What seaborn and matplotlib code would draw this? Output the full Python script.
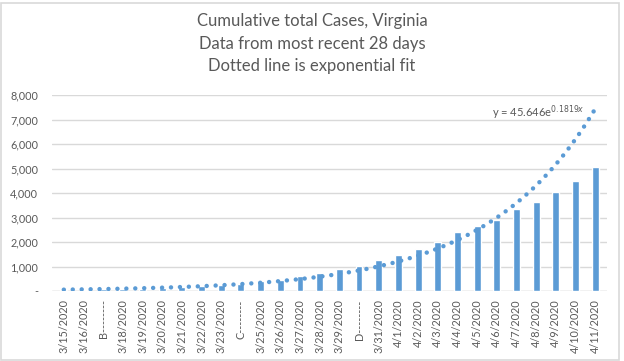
import matplotlib
matplotlib.use("Agg")
import matplotlib.pyplot as plt
import seaborn as sns
import numpy as np
import pandas as pd
from matplotlib.patches import Rectangle
from matplotlib.ticker import FuncFormatter

# ---- data ----
dates = ["3/15/2020", "3/16/2020", "B--------", "3/18/2020", "3/19/2020", "3/20/2020",
         "3/21/2020", "3/22/2020", "3/23/2020", "C--------", "3/25/2020", "3/26/2020",
         "3/27/2020", "3/28/2020", "3/29/2020", "D--------", "3/31/2020", "4/1/2020",
         "4/2/2020", "4/3/2020", "4/4/2020", "4/5/2020", "4/6/2020", "4/7/2020",
         "4/8/2020", "4/9/2020", "4/10/2020", "4/11/2020"]
cases = [45, 51, 67, 77, 94, 114, 152, 219, 254, 290, 391, 460, 604, 739, 890,
         1020, 1250, 1484, 1706, 2012, 2407, 2637, 2878, 3333, 3645, 4042, 4509, 5077]
fit_a = 45.646
fit_b = 0.1819
title_lines = ["Cumulative total Cases, Virginia",
               "Data from most recent 28 days",
               "Dotted line is exponential fit"]

BLUE = "#5B9BD5"
GRAY = "#595959"

sns.set_theme(style="white")
plt.rcParams["font.family"] = ["Lato", "DejaVu Sans"]

df = pd.DataFrame({"date": dates, "cases": cases})

fig = plt.figure(figsize=(6.24, 3.61), dpi=100)
ax = fig.add_axes([52/624, 1-291/361, (607-52)/624, (291-95)/361])

sns.barplot(data=df, x="date", y="cases", color=BLUE, width=0.35,
            saturation=1, ax=ax, zorder=2)

# exponential trend line (Excel fit, x = 1..n)
xs = np.linspace(0, len(dates) - 1.05, 400)
ys = fit_a * np.exp(fit_b * (xs + 1))
ax.plot(xs, ys, color=BLUE, linewidth=3.2, linestyle=(0, (0.01, 2.0)),
        dash_capstyle="round", zorder=3)

ax.text(26.45, 7280, r"y = 45.646e$^{0.1819x}$", ha="right", va="center",
        fontsize=8, color=GRAY)

ax.set_ylim(0, 8000)
ax.set_xlim(-0.6, len(dates) - 0.4)
ax.set_yticks(range(0, 8001, 1000))
ax.yaxis.set_major_formatter(FuncFormatter(lambda v, p: "-" if v == 0 else f"{int(v):,}"))
ax.yaxis.grid(True, color="#D9D9D9", linewidth=1)
ax.set_axisbelow(True)
for s in ax.spines.values():
    s.set_visible(False)
ax.axhline(0, color="#D9D9D9", linewidth=1, zorder=1)
ax.set_xlabel("")
ax.set_ylabel("")
ax.tick_params(axis="y", length=0, labelsize=7.8, labelcolor=GRAY, pad=10)
ax.tick_params(axis="x", length=0, labelsize=7.8, labelcolor=GRAY, pad=6)
plt.setp(ax.get_xticklabels(), rotation=90)

fig.text(0.5, 1 - 13/361, "\n".join(title_lines), ha="center", va="top",
         fontsize=12, color=GRAY, linespacing=1.5)

fig.patches.append(Rectangle((1/624, 1/361), 618/624, 357/361, transform=fig.transFigure,
                             fill=False, edgecolor="#D9D9D9", linewidth=1.2))

fig.savefig("out.png", dpi=100, facecolor="white")
